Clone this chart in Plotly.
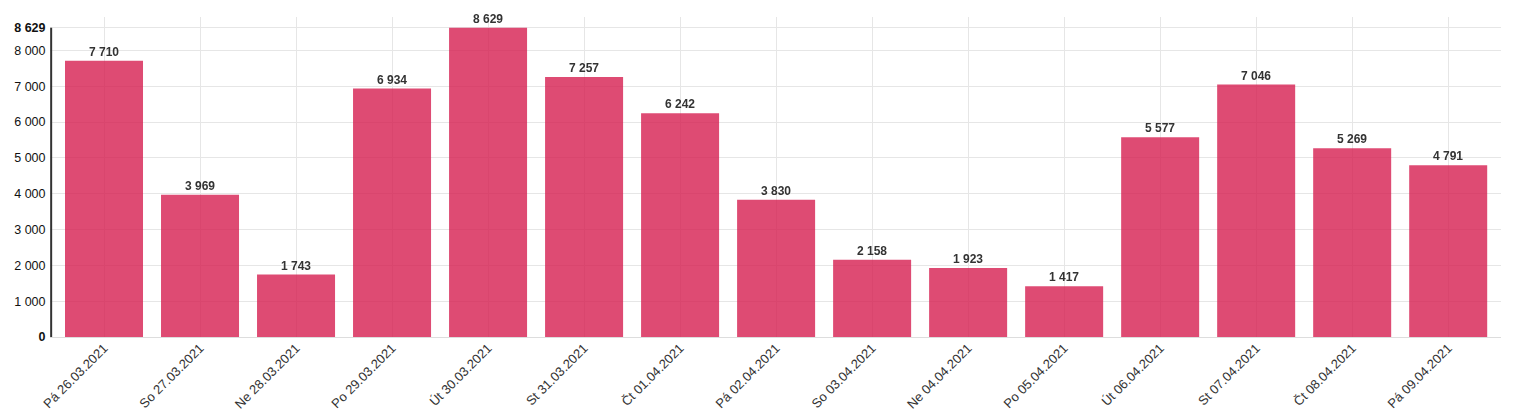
import plotly.graph_objects as go

dates = ["Pá 26.03.2021", "So 27.03.2021", "Ne 28.03.2021", "Po 29.03.2021", "Út 30.03.2021",
         "St 31.03.2021", "Čt 01.04.2021", "Pá 02.04.2021", "So 03.04.2021", "Ne 04.04.2021",
         "Po 05.04.2021", "Út 06.04.2021", "St 07.04.2021", "Čt 08.04.2021", "Pá 09.04.2021"]
values = [7710, 3969, 1743, 6934, 8629, 7257, 6242, 3830, 2158, 1923, 1417, 5577, 7046, 5269, 4791]
y_ticks = [0, 1000, 2000, 3000, 4000, 5000, 6000, 7000, 8000]


def fmt(v):
    return f"{v:,}".replace(",", " ")


vmax = max(values)
tickvals = y_ticks + [vmax]
ticktext = ["<b>0</b>"] + [fmt(v) for v in y_ticks[1:]] + [f"<b>{fmt(vmax)}</b>"]

fig = go.Figure()
fig.add_trace(go.Bar(
    x=dates, y=values,
    marker=dict(color="rgb(214,30,80)", line=dict(width=0)),
    opacity=0.8,
    cliponaxis=False,
    hoverinfo="x+y",
))

for d, v in zip(dates, values):
    fig.add_annotation(x=d, y=v, text=f"<b>{fmt(v)}</b>", showarrow=False,
                       yanchor="bottom", yshift=0,
                       font=dict(family="Liberation Sans, Arial, sans-serif", size=12, color="#333333"))

fig.add_shape(type="line", xref="x domain", yref="y", x0=0.0008, x1=0.0008, y0=0, y1=vmax,
              line=dict(color="#333333", width=2), layer="above")

fig.update_layout(
    width=1498, height=404,
    margin=dict(l=42, r=5, t=9, b=75),
    paper_bgcolor="white", plot_bgcolor="white",
    bargap=0.1875,
    showlegend=False,
    separators=", ",
    font=dict(family="Liberation Sans, Arial, sans-serif", size=13, color="#222222"),
    xaxis=dict(
        type="category",
        range=[-0.5625, 14.55],
        tickangle=-45,
        showgrid=True, gridcolor="#e6e6e6", gridwidth=1,
        showline=False, ticks="",
        tickfont=dict(size=13, color="#333333"),
        automargin=False,
    ),
    yaxis=dict(
        range=[0, vmax * 1.035],
        tickvals=tickvals, ticktext=ticktext,
        showgrid=True, gridcolor="#e6e6e6", gridwidth=1,
        zeroline=True, zerolinecolor="#dddddd", zerolinewidth=1,
        showline=False, ticks="outside", ticklen=1, tickcolor="rgba(0,0,0,0)",
        tickfont=dict(size=12.5, color="#111111"),
        automargin=False,
    ),
)

fig.write_html("out.html")
